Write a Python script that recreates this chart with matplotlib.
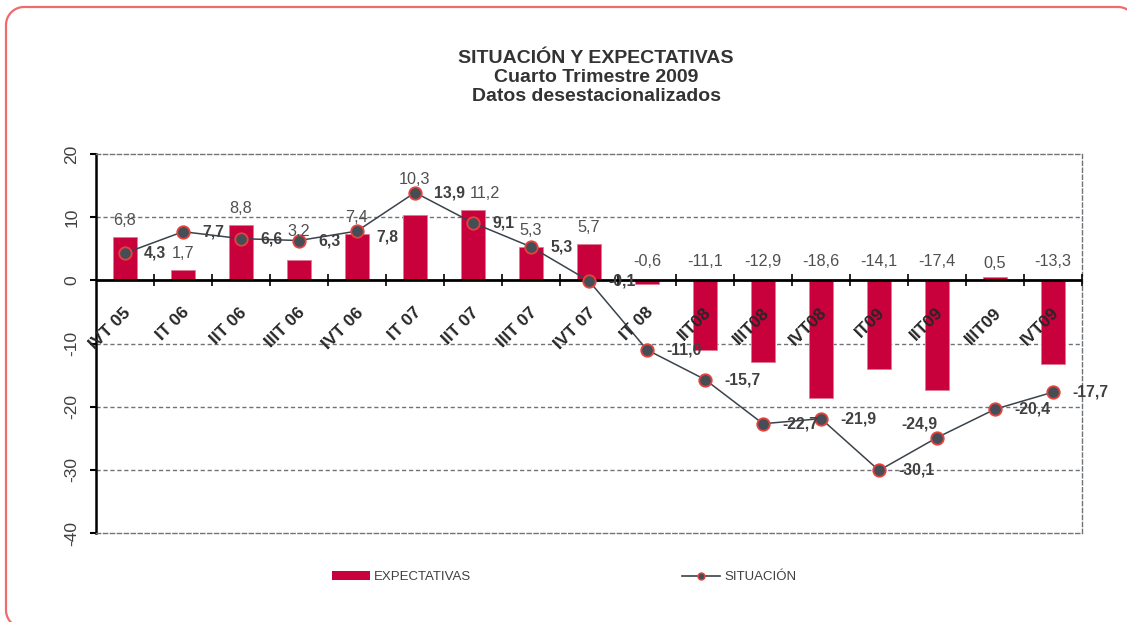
import matplotlib
matplotlib.use("Agg")
import numpy as np
import matplotlib.pyplot as plt
from matplotlib.patches import PathPatch, Patch
from matplotlib.path import Path
from matplotlib.lines import Line2D
from matplotlib.transforms import IdentityTransform

plt.rcParams['font.family'] = ['Liberation Sans', 'DejaVu Sans']

categories = ["IVT 05", "IT 06", "IIT 06", "IIIT 06", "IVT 06", "IT 07", "IIT 07",
              "IIIT 07", "IVT 07", "IT 08", "IIT08", "IIIT08", "IVT08", "IT09",
              "IIT09", "IIIT09", "IVT09"]
expectativas = [6.8, 1.7, 8.8, 3.2, 7.4, 10.3, 11.2, 5.3, 5.7, -0.6, -11.1, -12.9,
                -18.6, -14.1, -17.4, 0.5, -13.3]
situacion = [4.3, 7.7, 6.6, 6.3, 7.8, 13.9, 9.1, 5.3, -0.1, -11.0, -15.7, -22.7,
             -21.9, -30.1, -24.9, -20.4, -17.7]
title_lines = ["SITUACIÓN Y EXPECTATIVAS", "Cuarto Trimestre 2009",
               "Datos desestacionalizados"]
yticks = [-40, -30, -20, -10, 0, 10, 20]

W, H = 1127, 622
fig = plt.figure(figsize=(W / 100, H / 100), dpi=100)
fig.patch.set_facecolor('white')

# outer rounded border drawn as an explicit path in pixel coordinates
r = 18
x0, x1 = 6, 1136
y0, y1 = 622 - 7, 622 - 628
def arc(cx, cy, a0, a1):
    t = np.radians(np.linspace(a0, a1, 20))
    return list(zip(cx + r * np.cos(t), cy + r * np.sin(t)))
verts = []
verts += arc(x0 + r, y0 - r, 180, 90)
verts += arc(x1 - r, y0 - r, 90, 0)
verts += arc(x1 - r, y1 + r, 0, -90)
verts += arc(x0 + r, y1 + r, 270, 180)
verts.append(verts[0])
border = PathPatch(Path(verts), transform=IdentityTransform(), facecolor='none',
                   edgecolor='#EE6B6E', linewidth=1.6)
fig.add_artist(border)

ax = fig.add_axes([96 / W, 1 - 533 / H, (1082 - 96) / W, (533 - 154) / H])
x = list(range(len(categories)))

bar_color = '#C8003C'
ax.bar(x, expectativas, width=0.4, color=bar_color, edgecolor='#E07A92',
       linewidth=0.6, zorder=2)

line_color = '#3A434C'
ax.plot(x, situacion, color=line_color, lw=1.1, marker='o', ms=9,
        markerfacecolor='#454E57', markeredgecolor='#E8413C', markeredgewidth=1.3,
        zorder=4)

ax.set_xlim(-0.5, len(categories) - 0.5)
ax.set_ylim(-40, 20)

# grid
for g in [10, -10, -20, -30]:
    ax.axhline(g, color='#6E7378', lw=1.0, ls=(0, (3, 2)), zorder=1)
for s in ['top', 'right', 'bottom']:
    ax.spines[s].set_linestyle((0, (3, 2)))
    ax.spines[s].set_color('#6E7378')
    ax.spines[s].set_linewidth(1.0)
ax.spines['left'].set_color('black')
ax.spines['left'].set_linewidth(1.8)
ax.axhline(0, color='black', lw=2.0, zorder=3)

# x cross ticks on zero line
bounds = [i + 0.5 for i in x]
ax.plot(bounds, [0] * len(bounds), ls='none', marker='|', ms=9, mew=1.2,
        color='black', zorder=3, clip_on=False)

ax.set_xticks([])
ax.set_yticks(yticks)
ax.set_yticklabels([str(v) for v in yticks], rotation=90, va='center',
                   fontsize=12.5, color='#404040')
ax.tick_params(axis='y', length=4, width=1.5, pad=8, color='black')

# category labels inside plot
for i, c in enumerate(categories):
    ax.text(i - 0.03, -3.9, c, rotation=45, rotation_mode='anchor', ha='right',
            va='top', fontsize=12.5, fontweight='bold', color='#262626', zorder=5)

# expectativas labels
exp_dy = {3: 2.0, 5: 3.0}
exp_dx = {6: 0.2}
for i, v in enumerate(expectativas):
    y = (v + 2.6) if v > 0 else 3.0
    if 0 < v < 1:
        y = v + 2.1
    y += exp_dy.get(i, 0)
    ax.text(i + exp_dx.get(i, 0), y, f"{v:.1f}".replace('.', ','), ha='center',
            va='center', fontsize=11.7, color='#505050', zorder=5)

# situacion labels
for i, v in enumerate(situacion):
    lab = f"{v:.1f}".replace('.', ',')
    if i == 14:
        ax.text(i, v + 2.1, lab, ha='right', va='center', fontsize=11.3,
                fontweight='bold', color='#404040', zorder=6)
    else:
        dy = -1.0 if i == 4 else 0
        ax.text(i + 0.33, v + dy, lab, ha='left', va='center', fontsize=11.3,
                fontweight='bold', color='#404040', zorder=6)

# title (baselines at 63, 82, 101 px from top)
for k, t in enumerate(title_lines):
    fig.text(596 / W, 1 - (63 + 19 * k) / H, t, ha='center', va='baseline',
             fontsize=14, fontweight='bold', color='#333333')

# legend
handles = [Patch(facecolor=bar_color, edgecolor='none', label='EXPECTATIVAS'),
           Line2D([0], [0], color=line_color, lw=1.2, marker='o', ms=5,
                  markerfacecolor='#454E57', markeredgecolor='#E8413C',
                  markeredgewidth=1.0, label='SITUACIÓN')]
fig.legend(handles=handles, loc='center', bbox_to_anchor=(564 / W, 1 - 577 / H),
           ncol=2, frameon=False, fontsize=9.5, handlelength=2.9,
           handletextpad=0.3, columnspacing=16.0, labelcolor='#404040',
           handleheight=0.6)

fig.savefig('out.png', dpi=100)
